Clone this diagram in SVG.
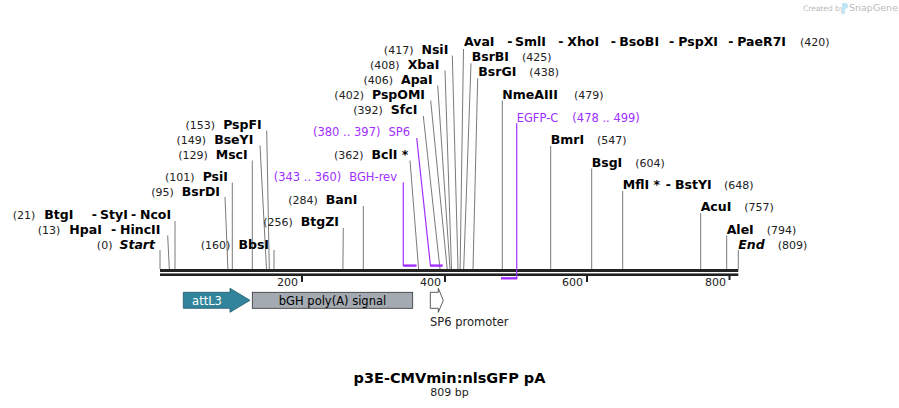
<svg xmlns="http://www.w3.org/2000/svg" width="899" height="408" viewBox="0 0 899 408">
<style>
text{font-family:"DejaVu Sans","Verdana",sans-serif;}
.n{font-size:11px;fill:#222;}
.b{font-size:12.5px;font-weight:bold;fill:#000;}
.bi{font-size:12.5px;font-weight:bold;font-style:italic;fill:#000;}
.p{font-size:11.5px;fill:#a030ff;}
.cut{stroke:#7a7a7a;stroke-width:1;fill:none;}
.pr{stroke:#a030ff;stroke-width:1.2;fill:none;}
.prb{stroke:#a030ff;stroke-width:2.4;fill:none;}
.tick{font-size:11px;fill:#222;}
</style>
<rect width="899" height="408" fill="#fff"/>
<g id="watermark">
<text x="803" y="11" style="font-size:7.5px;fill:#bbb">Created by</text>
<path d="M842 3 h3 a3 3 0 0 1 0 6 v5 h-3 z" fill="#bfe4f5"/>
<text x="849" y="11" style="font-size:9.5px;fill:#bbb">SnapGene</text>
</g>
<g id="backbone">
<rect x="160" y="269" width="578.3" height="3" fill="#222"/>
<rect x="160" y="273.4" width="578.3" height="2.6" fill="#222"/>
<rect x="301" y="275" width="2" height="7" fill="#222"/>
<rect x="444" y="275" width="2" height="7" fill="#222"/>
<rect x="586" y="275" width="2" height="7" fill="#222"/>
<rect x="728.5" y="275" width="2" height="5" fill="#222"/>
<text class="tick" x="298" y="286" text-anchor="end">200</text>
<text class="tick" x="441" y="286" text-anchor="end">400</text>
<text class="tick" x="583" y="286" text-anchor="end">600</text>
<text class="tick" x="726" y="286" text-anchor="end">800</text>
</g>
<g id="connectors">
<path class="cut" d="M160 250V269"/>
<path class="cut" d="M167.7 235.5L169.3 269"/>
<path class="cut" d="M175 221V269"/>
<path class="cut" d="M225 197L227.9 269"/>
<path class="cut" d="M232.3 182.5V269"/>
<path class="cut" d="M252.3 160.5V269"/>
<path class="cut" d="M260 145.5L266.5 269"/>
<path class="cut" d="M266.7 130.5L269.3 269"/>
<path class="cut" d="M274 250V269"/>
<path class="cut" d="M343.3 228L342.9 269"/>
<path class="cut" d="M363.3 206V269"/>
<path class="cut" d="M410 160.5L418.6 269"/>
<path class="cut" d="M423.3 116L440 269"/>
<path class="cut" d="M430.7 100.5L447.2 269"/>
<path class="cut" d="M437.7 85.5L450 269"/>
<path class="cut" d="M445 70.5L451.5 269"/>
<path class="cut" d="M452.3 55.5L458 269"/>
<path class="cut" d="M463.5 49L460.1 269"/>
<path class="cut" d="M471 63.3L463.7 269"/>
<path class="cut" d="M477.7 78.3L473 269"/>
<path class="cut" d="M502.3 100.5V269"/>
<path class="cut" d="M550.7 146V269"/>
<path class="cut" d="M591.7 168.5V269"/>
<path class="cut" d="M622.7 191V269"/>
<path class="cut" d="M700.7 213V269"/>
<path class="cut" d="M726.7 235.5V269"/>
<path class="cut" d="M738.3 250V269"/>
<path class="pr" d="M403.3 182.5V266"/>
<path class="prb" d="M403.3 265.6H416.5"/>
<path class="pr" d="M416.7 138L430.5 266"/>
<path class="prb" d="M430 265.6H442.7"/>
<path class="pr" d="M516.7 123.3V279"/>
<path class="prb" d="M501 278.3H517.3"/>
</g>
<g id="labels-left">
<text id="start" x="155" y="249" text-anchor="end"><tspan class="n">(0)</tspan><tspan class="bi" dx="7">Start</tspan></text>
<g id="hpai">
<text class="n" x="37.7" y="234">(13)</text>
<text class="b" x="69.3" y="234">HpaI</text>
<text class="b" x="111" y="234">-</text>
<text class="b" x="120" y="234">HincII</text>
</g>
<g id="btgi">
<text class="n" x="12.7" y="219">(21)</text>
<text class="b" x="44.3" y="219">BtgI</text>
<text class="b" x="91.7" y="219">-</text>
<text class="b" x="100" y="219">StyI</text>
<text class="b" x="131" y="219">-</text>
<text class="b" x="140" y="219">NcoI</text>
</g>
<text id="bsrdi" x="220" y="196" text-anchor="end"><tspan class="n">(95)</tspan><tspan class="b" dx="8">BsrDI</tspan></text>
<text id="psii" x="228" y="181" text-anchor="end"><tspan class="n">(101)</tspan><tspan class="b" dx="8">PsiI</tspan></text>
<text id="msci" x="247.7" y="159" text-anchor="end"><tspan class="n">(129)</tspan><tspan class="b" dx="8">MscI</tspan></text>
<text id="bseyi" x="253.3" y="144" text-anchor="end"><tspan class="n">(149)</tspan><tspan class="b" dx="8">BseYI</tspan></text>
<text id="pspfi" x="261.7" y="129" text-anchor="end"><tspan class="n">(153)</tspan><tspan class="b" dx="8">PspFI</tspan></text>
<text id="bbsi" x="269" y="249" text-anchor="end"><tspan class="n">(160)</tspan><tspan class="b" dx="8">BbsI</tspan></text>
<text id="btgzi" x="339" y="226" text-anchor="end"><tspan class="n">(256)</tspan><tspan class="b" dx="8">BtgZI</tspan></text>
<text id="bani" x="357.3" y="204" text-anchor="end"><tspan class="n">(284)</tspan><tspan class="b" dx="8">BanI</tspan></text>
<text id="bghrev" class="p" x="397" y="181" text-anchor="end">(343 .. 360)<tspan dx="8">BGH-rev</tspan></text>
<text id="bcli" x="408.3" y="159" text-anchor="end"><tspan class="n">(362)</tspan><tspan class="b" dx="8">BclI *</tspan></text>
<text id="sp6" class="p" x="410" y="136" text-anchor="end">(380 .. 397)<tspan dx="8">SP6</tspan></text>
<text id="sfci" x="417.3" y="114" text-anchor="end"><tspan class="n">(392)</tspan><tspan class="b" dx="8">SfcI</tspan></text>
<text id="pspomi" x="425" y="99" text-anchor="end"><tspan class="n">(402)</tspan><tspan class="b" dx="8">PspOMI</tspan></text>
<text id="apai" x="432.7" y="84" text-anchor="end"><tspan class="n">(406)</tspan><tspan class="b" dx="8">ApaI</tspan></text>
<text id="xbai" x="439.3" y="69" text-anchor="end"><tspan class="n">(408)</tspan><tspan class="b" dx="8">XbaI</tspan></text>
<text id="nsii" x="448.3" y="54" text-anchor="end"><tspan class="n">(417)</tspan><tspan class="b" dx="8">NsiI</tspan></text>
</g>
<g id="labels-right">
<g id="avai">
<text class="b" x="464" y="46">AvaI</text>
<text class="b" x="507.3" y="46">-</text>
<text class="b" x="515" y="46">SmlI</text>
<text class="b" x="558.3" y="46">-</text>
<text class="b" x="567.3" y="46">XhoI</text>
<text class="b" x="610.7" y="46">-</text>
<text class="b" x="619.3" y="46">BsoBI</text>
<text class="b" x="669" y="46">-</text>
<text class="b" x="678.3" y="46">PspXI</text>
<text class="b" x="728.3" y="46">-</text>
<text class="b" x="737.3" y="46">PaeR7I</text>
<text class="n" x="800" y="46">(420)</text>
</g>
<text id="bsrbi" x="471.7" y="61"><tspan class="b">BsrBI</tspan><tspan class="n" dx="13">(425)</tspan></text>
<text id="bsrgi" x="478.3" y="76"><tspan class="b">BsrGI</tspan><tspan class="n" dx="13">(438)</tspan></text>
<text id="nmeaiii" x="502.3" y="99"><tspan class="b">NmeAIII</tspan><tspan class="n" dx="16">(479)</tspan></text>
<text id="egfpc" class="p" x="516.7" y="121.5">EGFP-C<tspan dx="14">(478 .. 499)</tspan></text>
<text id="bmri" x="550.7" y="144"><tspan class="b">BmrI</tspan><tspan class="n" dx="13">(547)</tspan></text>
<text id="bsgi" x="591.7" y="167"><tspan class="b">BsgI</tspan><tspan class="n" dx="13">(604)</tspan></text>
<g id="mfli">
<text class="b" x="622.7" y="189">MflI *</text>
<text class="b" x="665.7" y="189">-</text>
<text class="b" x="675" y="189">BstYI</text>
<text class="n" x="724" y="189">(648)</text>
</g>
<text id="acui" x="700.7" y="211"><tspan class="b">AcuI</tspan><tspan class="n" dx="13">(757)</tspan></text>
<text id="alei" x="726.7" y="234"><tspan class="b">AleI</tspan><tspan class="n" dx="13">(794)</tspan></text>
<text id="end" x="738.3" y="249"><tspan class="bi">End</tspan><tspan class="n" dx="13">(809)</tspan></text>
</g>
<g id="attL3">
<path d="M183.3 292.3H230V288.3L250 300.3L230 312.3V308.3H183.3Z" fill="#31849b" stroke="#1f5a6a" stroke-width="0.8"/>
<text x="207" y="304.5" text-anchor="middle" style="font-size:11.5px;fill:#fff">attL3</text>
</g>
<g id="bgh">
<rect x="252.3" y="292.3" width="160.4" height="16" fill="#a4aab1" stroke="#333" stroke-width="0.8"/>
<text x="332.5" y="304.5" text-anchor="middle" style="font-size:11.5px;fill:#000">bGH poly(A) signal</text>
</g>
<g id="sp6promoter">
<path d="M430.3 292.3H438.3V288.3L443.3 300.3L438.3 312.3V308.3H430.3Z" fill="#fff" stroke="#333" stroke-width="0.8"/>
<text x="430" y="326" style="font-size:11.5px;fill:#222">SP6 promoter</text>
</g>
<g id="title">
<text x="449.5" y="383" text-anchor="middle" style="font-size:14.5px;font-weight:bold;fill:#000">p3E-CMVmin:nlsGFP pA</text>
<text x="449.5" y="396" text-anchor="middle" style="font-size:11px;fill:#222">809 bp</text>
</g>
</svg>
